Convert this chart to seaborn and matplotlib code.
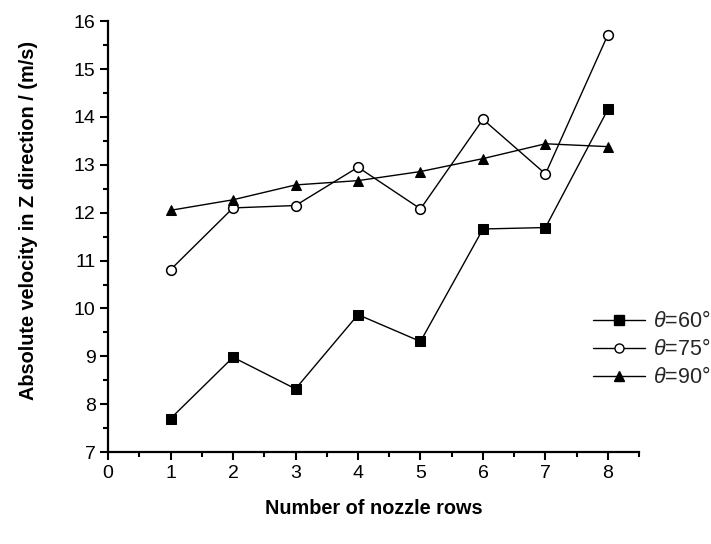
import matplotlib
matplotlib.use("Agg")
import matplotlib.pyplot as plt
from matplotlib.ticker import MultipleLocator
from matplotlib.lines import Line2D
import seaborn as sns
import pandas as pd

rows = [1, 2, 3, 4, 5, 6, 7, 8]
v60 = [7.70, 8.98, 8.32, 9.87, 9.31, 11.66, 11.69, 14.16]
v75 = [10.81, 12.10, 12.15, 12.95, 12.08, 13.95, 12.81, 15.72]
v90 = [12.05, 12.27, 12.58, 12.67, 12.86, 13.13, 13.44, 13.38]
labels = [r"$\theta$=60°", r"$\theta$=75°", r"$\theta$=90°"]

df = pd.DataFrame({
    "rows": rows * 3,
    "v": v60 + v75 + v90,
    "series": [labels[0]] * 8 + [labels[1]] * 8 + [labels[2]] * 8,
})

sns.set_theme(style="ticks")
plt.rcParams["font.family"] = ["Liberation Sans", "DejaVu Sans"]
plt.rcParams["mathtext.fontset"] = "custom"
plt.rcParams["mathtext.it"] = "Liberation Sans:italic"
plt.rcParams["mathtext.rm"] = "Liberation Sans"

fig = plt.figure(figsize=(7.11, 5.44), dpi=100)
ax = fig.add_axes([0.152, 0.169, 0.747, 0.792])

markers = {labels[0]: "s", labels[1]: "o", labels[2]: "^"}
palette = {l: "black" for l in labels}
sns.lineplot(data=df, x="rows", y="v", hue="series", style="series",
             markers=markers, dashes=False, palette=palette, ax=ax,
             linewidth=1.0, markersize=7, legend=False)

for line in ax.get_lines():
    if line.get_marker() == "o":
        line.set_markerfacecolor("white")
        line.set_markeredgecolor("black")
        line.set_markeredgewidth(1.1)
    else:
        line.set_markerfacecolor("black")
        line.set_markeredgecolor("black")

ax.set_xlim(0, 8.5)
ax.set_ylim(7, 16)
ax.xaxis.set_major_locator(MultipleLocator(1))
ax.xaxis.set_minor_locator(MultipleLocator(0.5))
ax.yaxis.set_major_locator(MultipleLocator(1))
ax.yaxis.set_minor_locator(MultipleLocator(0.5))
ax.tick_params(which="major", direction="out", length=6, width=1.5, labelsize=14,
               color="black", labelcolor="black", pad=3)
ax.tick_params(which="minor", direction="out", length=3.5, width=1.5, color="black")
sns.despine(ax=ax)
for s in ["left", "bottom"]:
    ax.spines[s].set_linewidth(1.6)
    ax.spines[s].set_color("black")

ax.set_xlabel("Number of nozzle rows", fontsize=14.3, fontweight="bold", color="black", va="center")
ax.xaxis.set_label_coords(0.5, -0.130)
ax.set_ylabel("Absolute velocity in Z direction / (m/s)", fontsize=14.3, fontweight="bold", color="black", va="center")
ax.yaxis.set_label_coords(-0.149, 0.538)

handles = []
for mk in ["s", "o", "^"]:
    handles.append(Line2D([], [], color="black", linewidth=1.0, marker=mk, markersize=6.5,
                          markerfacecolor="white" if mk == "o" else "black",
                          markeredgecolor="black"))
fig.legend(handles, labels, loc="center left", bbox_to_anchor=(0.834, 0.357),
           frameon=False, fontsize=15.5, handlelength=2.4, handletextpad=0.37,
           labelspacing=0.33, borderaxespad=0, borderpad=0)

fig.savefig("out.png", dpi=100)
